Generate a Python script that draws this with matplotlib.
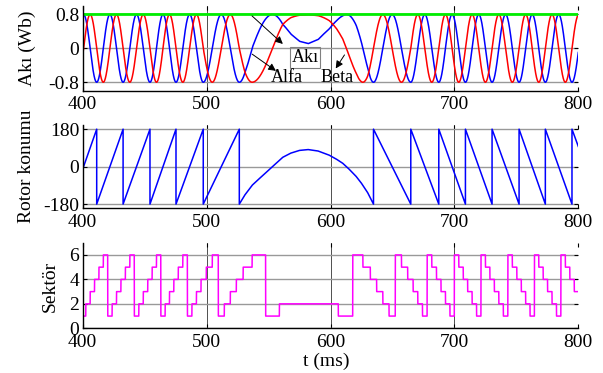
import numpy as np
import matplotlib.pyplot as plt

plt.rcParams['font.family'] = ['Liberation Serif', 'DejaVu Serif']
plt.rcParams['axes.unicode_minus'] = False

# rotor / flux angle (deg)
# forward rotation, angle climbs to +180 and wraps to -180
fwd_t = [400, 411.3, 411.3, 432.6, 432.6, 454.3, 454.3, 475.3, 475.3, 497.3, 497.3, 526.4, 526.4]
fwd_deg = [-12, 180, -180, 180, -180, 180, -180, 180, -180, 180, -180, 180, -180]
# reversal arc
arc_t = [531, 537, 543, 548, 555, 561.5, 568, 575, 582, 590, 599, 605, 609.9, 615, 620.7, 625, 630, 634.7]
arc_deg = [-135, -88, -55, -28, 10, 45, 65, 78, 82, 75, 55, 35, 16, -12, -47, -80, -125, -180]
# reverse rotation, angle falls to -180 and wraps to +180
rev_t = [634.7, 664.8, 664.8, 687.4, 687.4, 708.9, 708.9, 730.4, 730.4, 752.2, 752.2, 773.4, 773.4, 794.9, 794.9, 800]
rev_deg = [180, -180, 180, -180, 180, -180, 180, -180, 180, -180, 180, -180, 180, -180, 180, 97]

flux_amp = 0.8  # Wb

rotor_t = np.array(fwd_t + arc_t + rev_t)
rotor_deg = np.array(fwd_deg + arc_deg + rev_deg)

# flux components and sector follow the angle
t = np.arange(400, 800.001, 0.05)
theta = np.interp(t, rotor_t, rotor_deg)
alfa = flux_amp * np.cos(np.deg2rad(theta))
beta = flux_amp * np.sin(np.deg2rad(theta))
mag = np.full_like(t, flux_amp)
sektor = np.floor((theta + 30) / 60) % 6 + 1

fig = plt.figure(figsize=(6.03, 3.73), dpi=100)
W, H = 603, 373
def box(top, bottom):
    return [82.7 / W, 1 - bottom / H, 495.6 / W, (bottom - top) / H]

ax1 = fig.add_axes(box(6, 90.7))
ax2 = fig.add_axes(box(125, 208.3))
ax3 = fig.add_axes(box(242.7, 328.3))

for ax in (ax1, ax2, ax3):
    ax.set_xlim(400, 800)
    ax.set_xticks([400, 500, 600, 700, 800])
    ax.spines['top'].set_visible(False)
    ax.spines['right'].set_visible(False)
    ax.spines['left'].set_linewidth(1.0)
    ax.spines['bottom'].set_linewidth(1.0)
    ax.tick_params(direction='in', top=True, right=True, length=3, width=0.8)
    ax.tick_params(axis='x', labelsize=14, pad=4)
    ax.tick_params(axis='y', labelsize=14, pad=2.5)
    ax.grid(True, axis='y', color='0.6', lw=1.0)
    ax.grid(True, axis='x', color='0.2', lw=0.6)
    ax.set_axisbelow(True)

# Akı
ax1.plot(t, alfa, color='#0000ff', lw=1.1)
ax1.plot(t, beta, color='#ff0000', lw=1.1)
ax1.plot(t, mag, color='#00ee00', lw=2.0)
ax1.set_ylim(-1, 1)
ax1.set_yticks([-0.8, 0, 0.8])
ax1.set_yticklabels(['-0.8', '0', '0.8'])

arr = dict(arrowstyle='-|>', color='k', lw=0.7, mutation_scale=11)
ax1.annotate('', xy=(563.2, 0.06), xytext=(535.0, 0.81), arrowprops=arr)
ax1.annotate('', xy=(557.8, -0.57), xytext=(535.0, -0.10), arrowprops=arr)
ax1.annotate('', xy=(603.0, -0.53), xytext=(612.5, -0.10), arrowprops=arr)
ax1.text(579.4, -0.22, 'Akı', ha='center', va='center', fontsize=13,
         bbox=dict(boxstyle='square,pad=0.1', fc='none', ec='0.5', lw=0.8))
ax1.text(565.0, -0.69, 'Alfa', ha='center', va='center', fontsize=13)
ax1.text(605.5, -0.69, 'Beta', ha='center', va='center', fontsize=13)

# Rotor konumu
ax2.plot(rotor_t, rotor_deg, color='#0000ff', lw=1.1)
ax2.set_ylim(-200, 200)
ax2.set_yticks([-180, 0, 180])

# Sektör
ax3.plot(t, sektor, color='#ff00ff', lw=1.1)
ax3.set_ylim(0, 7)
ax3.set_yticks([0, 2, 4, 6])

fig.text(27 / W, 1 - 48 / H, 'Akı (Wb)', rotation=90, ha='center', va='center', fontsize=14)
fig.text(27 / W, 1 - 166 / H, 'Rotor konumu', rotation=90, ha='center', va='center', fontsize=14)
fig.text(50 / W, 1 - 286 / H, 'Sektör', rotation=90, ha='center', va='center', fontsize=14)
fig.text(326 / W, 1 - 361 / H, 't (ms)', ha='center', va='center', fontsize=14)

fig.savefig('out.png', dpi=100)
